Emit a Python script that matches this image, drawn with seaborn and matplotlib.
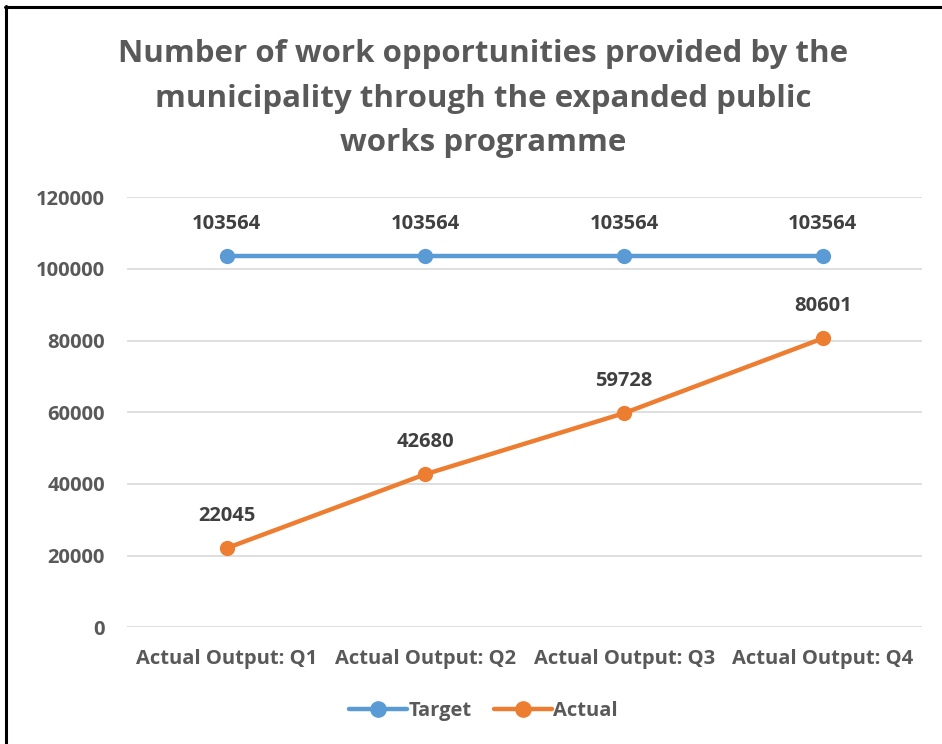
import matplotlib
matplotlib.use("Agg")
import matplotlib.pyplot as plt
import seaborn as sns
import pandas as pd
from matplotlib.lines import Line2D

# data
quarters = ["Actual Output: Q1", "Actual Output: Q2", "Actual Output: Q3", "Actual Output: Q4"]
target = [103564, 103564, 103564, 103564]
actual = [22045, 42680, 59728, 80601]
yticks = [0, 20000, 40000, 60000, 80000, 100000, 120000]

title = "Number of work opportunities provided by the\nmunicipality through the expanded public\nworks programme"

df = pd.DataFrame({
    "quarter": quarters * 2,
    "value": target + actual,
    "series": ["Target"] * 4 + ["Actual"] * 4,
})

sns.set_theme(style="white")
plt.rcParams["font.family"] = ["Open Sans", "DejaVu Sans"]
plt.rcParams["font.weight"] = "bold"

blue = "#5B9BD5"
orange = "#ED7D31"
grey = "#595959"

fig = plt.figure(figsize=(9.42, 7.44), dpi=100)
ax = fig.add_axes([0.135, 0.157, 0.844, 0.578])

sns.lineplot(data=df, x="quarter", y="value", hue="series",
             palette={"Target": blue, "Actual": orange},
             marker="o", markersize=11, markeredgewidth=0,
             linewidth=3.2, ax=ax, legend=False, sort=False)

for vals in [target, actual]:
    for i, v in enumerate(vals):
        ax.annotate(str(v), (i, v), xytext=(0, 23), textcoords="offset points",
                    ha="center", va="center", fontsize=14.5, fontweight="bold",
                    color="#404040")

ax.set_xlim(-0.5, 3.5)
ax.set_ylim(0, 120000)
ax.set_yticks(yticks)
ax.set_yticklabels([str(t) for t in yticks], fontweight="bold")
ax.grid(axis="y", color="#D9D9D9", linewidth=1.2)
ax.set_axisbelow(True)
for s in ax.spines.values():
    s.set_visible(False)
ax.tick_params(axis="both", length=0, labelsize=14.5, labelcolor=grey)
ax.tick_params(axis="y", pad=16)
ax.tick_params(axis="x", pad=16)
ax.set_xlabel("")
ax.set_ylabel("")

fig.text(0.513, 0.867, title, ha="center", va="center", fontsize=22.5,
         fontweight="bold", color=grey, linespacing=1.63)

handles = [Line2D([], [], color=blue, marker="o", linewidth=3.2, markersize=11),
           Line2D([], [], color=orange, marker="o", linewidth=3.2, markersize=11)]
leg = fig.legend(handles, ["Target", "Actual"], loc="center", bbox_to_anchor=(0.513, 0.044),
                 ncol=2, frameon=False, fontsize=14.5, handlelength=2.9,
                 handletextpad=0.05, columnspacing=1.1)
for t in leg.get_texts():
    t.set_color(grey)
    t.set_fontweight("bold")

# frame only on top and left, as in the original screenshot
fig.add_artist(Line2D([5 / 942, 1.0], [1 - 7 / 744, 1 - 7 / 744],
                      transform=fig.transFigure, color="black", linewidth=2.2))
fig.add_artist(Line2D([6 / 942, 6 / 942], [0.0, 1 - 6 / 744],
                      transform=fig.transFigure, color="black", linewidth=2.2))

fig.savefig("out.png", dpi=100)
